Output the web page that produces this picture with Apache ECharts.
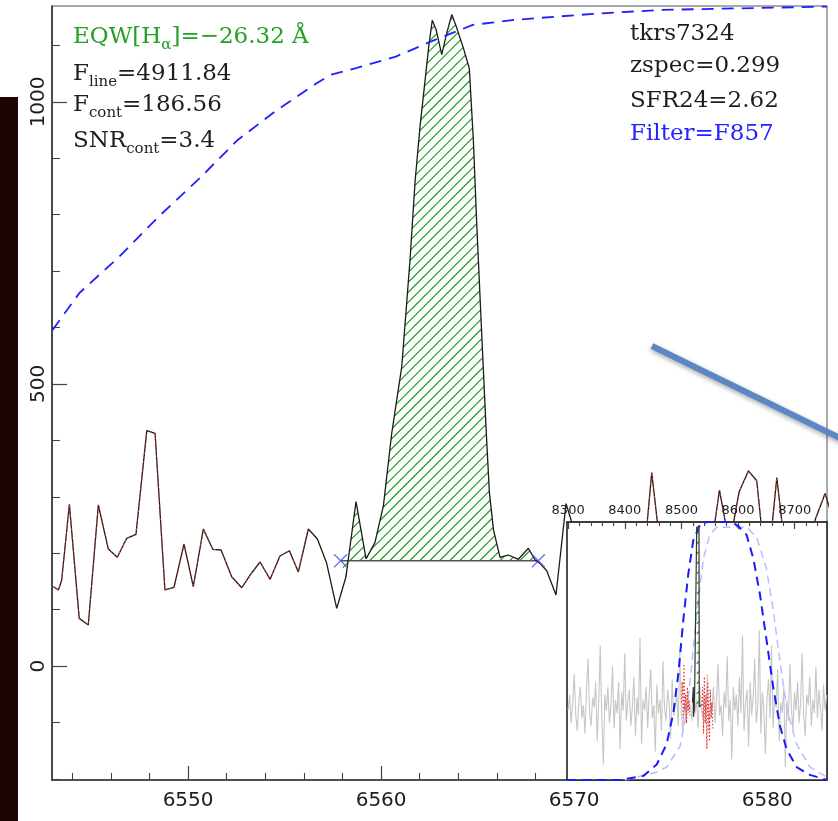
<!DOCTYPE html>
<html>
<head>
<meta charset="utf-8">
<script src="https://cdn.jsdelivr.net/npm/echarts@6/dist/echarts.min.js"></script>
<style>
  html, body { margin: 0; padding: 0; background: #fff; }
  #chart { width: 838px; height: 821px; }
</style>
</head>
<body>
<div id="chart"></div>
<script>
// ---------- main panel: observed spectrum around H-alpha ----------
const SPEC_WAVE = [
  6543.02, 6543.28, 6543.45, 6543.85, 6544.36, 6544.83, 6545.35, 6545.87, 6546.33, 6546.82,
  6547.30, 6547.86, 6548.29, 6548.80, 6549.27, 6549.79, 6550.27, 6550.79, 6551.28, 6551.71,
  6552.26, 6552.78, 6553.30, 6553.73, 6554.25, 6554.76, 6555.25, 6555.71, 6556.23, 6556.70,
  6557.18, 6557.70, 6558.18, 6558.70, 6559.22, 6559.68, 6560.12, 6560.55, 6561.07, 6561.50,
  6561.76, 6562.02, 6562.48, 6562.65, 6562.85, 6563.14, 6563.40, 6563.66, 6563.88, 6564.26,
  6564.57, 6564.78, 6564.95, 6565.21, 6565.44, 6565.61, 6565.82, 6566.16, 6566.59, 6567.11,
  6567.63, 6567.98, 6568.23, 6568.58, 6569.06, 6569.58, 6570.10, 6570.60, 6571.10, 6571.60,
  6572.10, 6572.60, 6573.10, 6573.52, 6574.02, 6574.52, 6575.00, 6575.50, 6576.00, 6576.50,
  6577.03, 6577.53, 6578.05, 6578.55, 6579.03, 6579.46, 6579.98, 6580.50, 6581.00, 6581.50,
  6582.00, 6583.00, 6583.50
];
const SPEC_FLUX = [
  140.6, 134.8, 152.0, 286.7, 84.5, 72.7, 285.5, 207.4, 192.7, 226.4,
  233.5, 417.2, 412.6, 134.8, 139.5, 216.3, 140.6, 242.9, 206.9, 205.7,
  158.3, 138.8, 165.4, 184.4, 153.7, 195.0, 204.4, 166.7, 242.9, 225.2,
  182.1, 102.3, 158.3, 291.5, 190.0, 218.8, 284.4, 412.6, 530.7, 721.0,
  859.0, 957.6, 1102.0, 1144.7, 1128.0, 1083.7, 1121.8, 1154.8, 1134.9, 1095.7,
  1059.3, 931.4, 786.9, 589.9, 419.1, 307.4, 241.8, 192.6, 196.8, 189.2,
  208.7, 188.0, 182.0, 169.0, 125.9, 288.0, 230.0, 175.0, 210.0, 190.0,
  165.0, 205.0, 180.0, 154.0, 343.0, 193.0, 170.0, 210.0, 185.0, 160.0,
  192.0, 312.0, 215.0, 309.0, 346.0, 328.5, 155.0, 334.0, 184.0, 200.0,
  215.0, 306.0, 250.0
];
// wavelength ranges where the fitted model (red dotted) is overplotted
const MODEL_RANGES = [[6542.0, 6556.3], [6570.5, 6584.0]];

// filter transmission, scaled to the flux axis
const FILTER_WAVE = [6542.98, 6544.37, 6546.42, 6548.47, 6550.51, 6552.57, 6554.61, 6556.66,
  6557.38, 6558.70, 6560.76, 6562.79, 6564.75, 6566.89, 6570.98, 6574.45, 6583.10];
const FILTER_RESP = [595.7, 661.3, 725.2, 796.6, 861.7, 932.6, 985.8, 1033.0,
  1047.9, 1059.7, 1080.3, 1110.0, 1136.5, 1145.4, 1156.0, 1163.0, 1169.0];

const CONT_LEVEL = 186.56;
const CONT_WINDOW = [6557.9, 6568.15];

const X_MIN = 6542.95, X_MAX = 6583.1;
const Y_MIN = -202, Y_MAX = 1170;
const X_MAJOR = [6550, 6560, 6570, 6580];
const Y_MAJOR = [0, 500, 1000];
const X_MINOR_STEP = 2, Y_MINOR_STEP = 100;

// ---------- inset: full spectrum through the F857 filter ----------
const INSET_MIN = 8298, INSET_MAX = 8757;
const INSET_MAJOR = [8300, 8400, 8500, 8600, 8700];
const INSET_MINOR_STEP = 20;
const INSET_START = 8300, INSET_STEP = 2.7;
const INSET_FLUX = [
  0.27, 0.33, 0.22, 0.30, 0.41, 0.25, 0.19, 0.31, 0.36, 0.24,
  0.29, 0.18, 0.35, 0.47, 0.26, 0.21, 0.32, 0.28, 0.38, 0.15,
  0.30, 0.52, 0.24, 0.06, 0.33, 0.27, 0.36, 0.22, 0.29, 0.44,
  0.20, 0.31, 0.26, 0.38, 0.12, 0.34, 0.27, 0.49, 0.23, 0.30,
  0.35, 0.21, 0.28, 0.40, 0.17, 0.32, 0.25, 0.55, 0.14, 0.31,
  0.27, 0.36, 0.20, 0.33, 0.43, 0.24, 0.29, 0.11, 0.37, 0.26,
  0.31, 0.19, 0.46, 0.28, 0.23, 0.35, 0.30, 0.16, 0.39, 0.25,
  0.28, 0.34, 0.21, 0.50, 0.26, 0.18, 0.30, 0.24, 0.33, 0.27,
  0.29, 0.23, 0.35, 0.26, 0.31, 0.20, 0.37, 0.28, 0.24, 0.32,
  0.26, 0.41, 0.19, 0.30, 0.27, 0.36, 0.22, 0.31, 0.45, 0.25,
  0.29, 0.17, 0.34, 0.28, 0.48, 0.23, 0.31, 0.08, 0.36, 0.27,
  0.33, 0.21, 0.40, 0.26, 0.56, 0.19, 0.30, 0.35, 0.13, 0.38,
  0.25, 0.32, 0.47, 0.22, 0.29, 0.58, 0.18, 0.34, 0.27, 0.10,
  0.31, 0.39, 0.24, 0.52, 0.20, 0.33, 0.28, 0.43, 0.15, 0.30,
  0.26, 0.36, 0.05, 0.31, 0.23, 0.45, 0.28, 0.19, 0.34, 0.27,
  0.38, 0.22, 0.30, 0.49, 0.25, 0.17, 0.33, 0.29, 0.40, 0.21,
  0.31, 0.26, 0.44, 0.24, 0.35, 0.28, 0.19, 0.37, 0.27, 0.33
];
const MODEL_L_WAVE = [8500, 8501.5, 8503, 8504.5, 8506, 8507.5, 8509, 8510.5, 8512, 8513.5, 8515];
const MODEL_L_FLUX = [0.30, 0.38, 0.24, 0.45, 0.27, 0.33, 0.22, 0.36, 0.26, 0.31, 0.25];
const MODEL_R_WAVE = [8536, 8537.5, 8539, 8540.5, 8542, 8543.5, 8545, 8546.5, 8548, 8549.5, 8551, 8552.5, 8554, 8555.5];
const MODEL_R_FLUX = [0.29, 0.36, 0.18, 0.40, 0.22, 0.33, 0.12, 0.38, 0.26, 0.15, 0.35, 0.24, 0.30, 0.20];
const LINE_WAVE = [8519.5, 8521.0, 8521.5, 8523.0, 8526.5, 8527.0, 8531.0, 8531.5, 8535.0];
const LINE_FLUX = [0.30, 0.36, 0.245, 0.284, 0.284, 0.98, 0.98, 0.284, 0.29];
const LINE_BASE = 0.284;
const LINE_WINDOW = [8527.0, 8531.0];
const FILT_DARK_WAVE = [8298, 8391.7, 8432.8, 8456.4, 8474, 8485.7, 8494.5, 8503.3, 8512.2, 8521,
  8532.8, 8545, 8590, 8602, 8615, 8626.8, 8638.6, 8650.4, 8662, 8673.9, 8685.7, 8703.3, 8726.8, 8757];
const FILT_DARK_RESP = [0, 0, 0.016, 0.06, 0.14, 0.26, 0.41, 0.62, 0.80, 0.93,
  0.99, 1.0, 1.0, 0.98, 0.95, 0.86, 0.72, 0.54, 0.36, 0.21, 0.12, 0.05, 0.02, 0.0];
const FILT_LIGHT_WAVE = [8400, 8427, 8456, 8474, 8497.5, 8509, 8518, 8527, 8539, 8550,
  8562, 8615, 8633, 8650, 8662, 8674, 8686, 8703, 8727, 8757];
const FILT_LIGHT_RESP = [0.0, 0.015, 0.03, 0.05, 0.13, 0.26, 0.44, 0.65, 0.86, 0.95,
  0.98, 0.98, 0.94, 0.82, 0.66, 0.46, 0.28, 0.14, 0.05, 0.01];

// ---------- helpers ----------
const pairs = (xs, ys) => xs.map((x, i) => [x, ys[i]]);
const steps = (lo, hi, step, skip) => {
  const out = [];
  for (let v = Math.ceil(lo / step) * step; v <= hi; v += step) {
    if (!skip.includes(v)) out.push(v);
  }
  return out;
};
const HATCH_COLOR = '#1f9f1f';
const HATCH_GAP = 10;

// "/" hatch lines clipped to a pixel polygon (even-odd rule)
function hatchGroup(pts) {
  let cmin = Infinity, cmax = -Infinity;
  pts.forEach(p => { const c = p[0] + p[1]; cmin = Math.min(cmin, c); cmax = Math.max(cmax, c); });
  const children = [];
  for (let c = Math.ceil(cmin / HATCH_GAP) * HATCH_GAP + 0.5; c <= cmax; c += HATCH_GAP) {
    const hits = [];
    for (let i = 0; i < pts.length; i++) {
      const a = pts[i], b = pts[(i + 1) % pts.length];
      const fa = a[0] + a[1] - c, fb = b[0] + b[1] - c;
      if ((fa < 0) !== (fb < 0)) {
        const t = fa / (fa - fb);
        hits.push([a[0] + t * (b[0] - a[0]), a[1] + t * (b[1] - a[1])]);
      }
    }
    hits.sort((p, q) => p[0] - q[0]);
    for (let k = 0; k + 1 < hits.length; k += 2) {
      children.push({
        type: 'line',
        shape: { x1: hits[k][0], y1: hits[k][1], x2: hits[k + 1][0], y2: hits[k + 1][1] },
        style: { stroke: HATCH_COLOR, lineWidth: 1.2 }
      });
    }
  }
  return { type: 'group', children };
}

const spectrum = pairs(SPEC_WAVE, SPEC_FLUX);
const modelSegments = MODEL_RANGES.map(([a, b]) => spectrum.filter(p => p[0] >= a && p[0] <= b));
const insetSpectrum = INSET_FLUX.map((f, i) => [INSET_START + i * INSET_STEP, f]);

const SANS = '"DejaVu Sans", sans-serif';
const SERIF = '"DejaVu Serif", serif';
const INK = '#1e1e1e';
const plain = v => String(v);

function tickedAxes(gridIndex, min, max, major, minor, majorLen, minorLen, labelOpt, position) {
  return [
    {
      type: 'value', gridIndex, min, max, position,
      axisLine: { show: true, onZero: false, lineStyle: { color: '#333', width: 1.6 } },
      axisTick: { show: true, inside: true, length: majorLen, customValues: major, lineStyle: { color: '#444', width: 1.2 } },
      axisLabel: Object.assign({ customValues: major, color: INK, fontFamily: SANS, formatter: plain }, labelOpt),
      splitLine: { show: false }
    },
    {
      type: 'value', gridIndex, min, max, position,
      axisLine: { show: false, onZero: false },
      axisTick: { show: true, inside: true, length: minorLen, customValues: minor, lineStyle: { color: '#444', width: 1.1 } },
      axisLabel: { show: false },
      splitLine: { show: false }
    }
  ];
}

const xAxes = [
  ...tickedAxes(0, X_MIN, X_MAX, X_MAJOR, steps(X_MIN, X_MAX, X_MINOR_STEP, X_MAJOR), 14, 7,
    { fontSize: 20, margin: 11 }, 'bottom'),
  ...tickedAxes(1, INSET_MIN, INSET_MAX, INSET_MAJOR, steps(INSET_MIN, INSET_MAX, INSET_MINOR_STEP, INSET_MAJOR), 7, 4,
    { fontSize: 13, margin: 5 }, 'top')
];
xAxes[2].z = 7; xAxes[3].z = 7;

const yAxes = [
  ...tickedAxes(0, Y_MIN, Y_MAX, Y_MAJOR, steps(Y_MIN, Y_MAX, Y_MINOR_STEP, Y_MAJOR), 15, 8,
    { fontSize: 20, margin: 3, rotate: 90 }, 'left'),
  { type: 'value', gridIndex: 1, min: 0, max: 1, show: false, splitLine: { show: false } }
];

const textRich = (color) => ({
  m: { fontSize: 23, fontFamily: SERIF, fill: color, lineHeight: 23, verticalAlign: 'top' },
  s: { fontSize: 15, fontFamily: SERIF, fill: color, lineHeight: 15, verticalAlign: 'top', padding: [12, 0, 0, 0] }
});
const label = (x, y, text, color) => ({
  type: 'text', x, y, z: 30, silent: true,
  style: { text, rich: textRich(color), fill: color, font: '23px ' + SERIF, verticalAlign: 'top' }
});

const option = {
  animation: false,
  backgroundColor: '#fff',
  grid: [
    { left: 52, top: 6, width: 775, height: 774, show: true, borderColor: '#555', borderWidth: 1, backgroundColor: 'transparent', z: 0 },
    { left: 567, top: 522, width: 260, height: 258, show: true, borderColor: '#222', borderWidth: 1.6, backgroundColor: '#fff', z: 6 }
  ],
  xAxis: xAxes,
  yAxis: yAxes,
  series: [
    {
      // hatched line flux between the spectrum and the continuum
      type: 'custom', coordinateSystem: 'cartesian2d', xAxisIndex: 0, yAxisIndex: 0, z: 2, silent: true,
      data: [[CONT_WINDOW[0], CONT_LEVEL]],
      renderItem(params, api) {
        const pts = [api.coord([CONT_WINDOW[0], CONT_LEVEL])];
        spectrum.forEach(p => { if (p[0] > CONT_WINDOW[0] && p[0] < CONT_WINDOW[1]) pts.push(api.coord(p)); });
        pts.push(api.coord([CONT_WINDOW[1], CONT_LEVEL]));
        return hatchGroup(pts);
      }
    },
    {
      type: 'line', xAxisIndex: 0, yAxisIndex: 0, z: 3, symbol: 'none', silent: true,
      data: [[CONT_WINDOW[0], CONT_LEVEL], [CONT_WINDOW[1], CONT_LEVEL]],
      lineStyle: { color: '#555', width: 1.6 }
    },
    {
      type: 'line', xAxisIndex: 0, yAxisIndex: 0, z: 3, symbol: 'none', silent: true,
      data: spectrum, lineStyle: { color: '#1a1a1a', width: 1.3 }
    },
    ...modelSegments.map(seg => ({
      type: 'line', xAxisIndex: 0, yAxisIndex: 0, z: 4, symbol: 'none', silent: true,
      data: seg, lineStyle: { color: '#e8352c', width: 1.1, type: [1.5, 3] }
    })),
    {
      type: 'line', xAxisIndex: 0, yAxisIndex: 0, z: 4, symbol: 'none', silent: true,
      data: pairs(FILTER_WAVE, FILTER_RESP), lineStyle: { color: '#1f1fff', width: 1.8, type: [12, 8] }
    },
    {
      type: 'scatter', xAxisIndex: 0, yAxisIndex: 0, z: 5, silent: true,
      data: CONT_WINDOW.map(x => [x, CONT_LEVEL]),
      symbol: 'path://M0,0L10,10M10,0L0,10', symbolSize: 13,
      itemStyle: { color: 'transparent', borderColor: '#4a4aff', borderWidth: 1.3 }
    },
    // inset
    {
      type: 'line', xAxisIndex: 2, yAxisIndex: 2, z: 8, symbol: 'none', silent: true,
      data: insetSpectrum, lineStyle: { color: '#c6c6c6', width: 1.1 }
    },
    {
      type: 'line', xAxisIndex: 2, yAxisIndex: 2, z: 9, symbol: 'none', silent: true,
      data: pairs(FILT_LIGHT_WAVE, FILT_LIGHT_RESP), lineStyle: { color: '#b9bdff', width: 1.5, type: [8, 5] }
    },
    {
      type: 'line', xAxisIndex: 2, yAxisIndex: 2, z: 9, symbol: 'none', silent: true,
      data: pairs(FILT_DARK_WAVE, FILT_DARK_RESP), lineStyle: { color: '#1a1aff', width: 2, type: [9, 6] }
    },
    {
      type: 'line', xAxisIndex: 2, yAxisIndex: 2, z: 10, symbol: 'none', silent: true,
      data: pairs(MODEL_L_WAVE, MODEL_L_FLUX), lineStyle: { color: '#ee2a2a', width: 1.1, type: [1.5, 2] }
    },
    {
      type: 'line', xAxisIndex: 2, yAxisIndex: 2, z: 10, symbol: 'none', silent: true,
      data: pairs(MODEL_R_WAVE, MODEL_R_FLUX), lineStyle: { color: '#ee2a2a', width: 1.1, type: [1.5, 2] }
    },
    {
      type: 'custom', coordinateSystem: 'cartesian2d', xAxisIndex: 2, yAxisIndex: 2, z: 10, silent: true,
      data: [[LINE_WINDOW[0], LINE_BASE]],
      renderItem(params, api) {
        const pts = [api.coord([LINE_WINDOW[0], LINE_BASE])];
        pairs(LINE_WAVE, LINE_FLUX).forEach(p => { if (p[0] >= LINE_WINDOW[0] && p[0] <= LINE_WINDOW[1]) pts.push(api.coord(p)); });
        pts.push(api.coord([LINE_WINDOW[1], LINE_BASE]));
        return hatchGroup(pts);
      }
    },
    {
      type: 'line', xAxisIndex: 2, yAxisIndex: 2, z: 11, symbol: 'none', silent: true,
      data: pairs(LINE_WAVE, LINE_FLUX), lineStyle: { color: '#333', width: 1.2 }
    }
  ],
  graphic: [
    { type: 'rect', z: 30, silent: true, shape: { x: 0, y: 97, width: 18, height: 724 }, style: { fill: '#1e0404' } },
    {
      type: 'line', z: 30, silent: true,
      shape: { x1: 652, y1: 346, x2: 842, y2: 439 },
      style: { stroke: '#5b88c3', lineWidth: 6, shadowBlur: 5, shadowOffsetY: 2, shadowColor: 'rgba(0,0,0,0.35)' }
    },
    label(73, 26, '{m|EQW[H}{s|α}{m|]=−26.32 Å}', '#23a123'),
    label(73, 63, '{m|F}{s|line}{m|=4911.84}', INK),
    label(73, 94, '{m|F}{s|cont}{m|=186.56}', INK),
    label(73, 130, '{m|SNR}{s|cont}{m|=3.4}', INK),
    label(630, 23, '{m|tkrs7324}', INK),
    label(630, 55, '{m|zspec=0.299}', INK),
    label(630, 90, '{m|SFR24=2.62}', INK),
    label(630, 123, '{m|Filter=F857}', '#2323ff')
  ]
};

const chart = echarts.init(document.getElementById('chart'), null, { renderer: 'canvas' });
chart.setOption(option);
</script>
</body>
</html>
